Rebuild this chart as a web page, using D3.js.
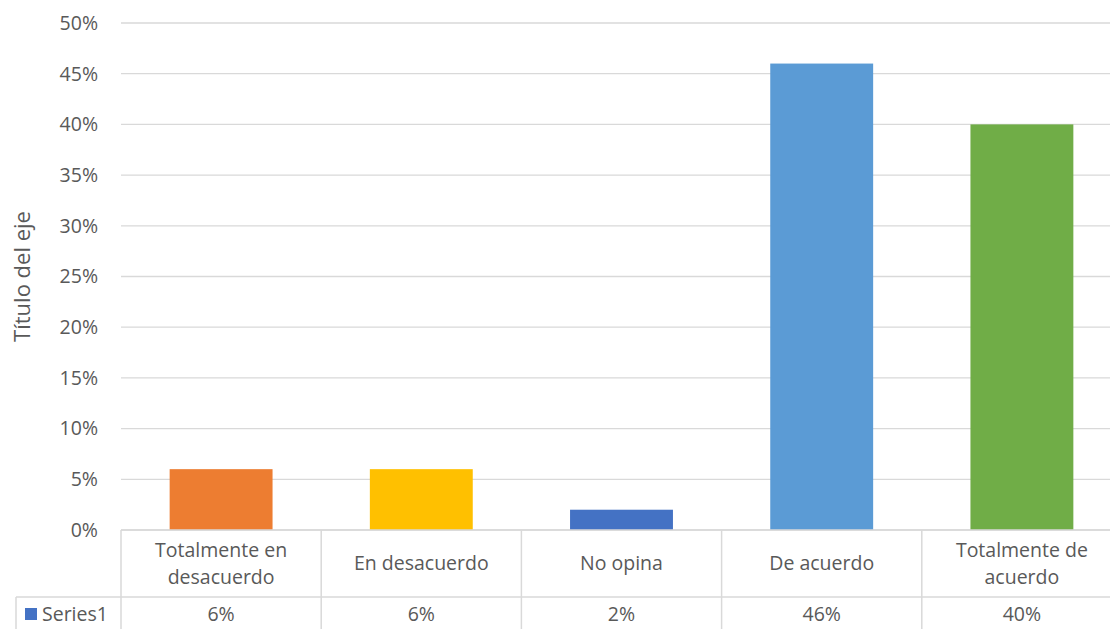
<!DOCTYPE html>
<html><head><meta charset="utf-8">
<script src="https://cdn.jsdelivr.net/npm/d3@7"></script>
<style>body{margin:0;background:#fff;overflow:hidden;} text{font-family:"Open Sans","Liberation Sans",sans-serif;fill:#595959;}</style>
</head><body>
<svg id="c" width="1110" height="629"></svg>
<script>
const categories = [["Totalmente en","desacuerdo"],["En desacuerdo"],["No opina"],["De acuerdo"],["Totalmente de","acuerdo"]];
const values = [0.06, 0.06, 0.02, 0.46, 0.40];
const valueLabels = ["6%","6%","2%","46%","40%"];
const colors = ["#ED7D31","#FFC000","#4472C4","#5B9BD5","#70AD47"];
const yTicks = [0,0.05,0.10,0.15,0.20,0.25,0.30,0.35,0.40,0.45,0.50];
const seriesName = "Series1";
const axisTitle = "Título del eje";

(function(){
const svg = d3.select("#c");
const pL = 121, pR = 1122, pT = 23, pB = 530;
const fs = 19.5;
const x = d3.scaleBand().domain(d3.range(values.length)).range([pL, pR]).paddingInner(0).paddingOuter(0);
const y = d3.scaleLinear().domain([0, 0.5]).range([pB, pT]);
const grid = "#d9d9d9";

svg.append("g").selectAll("line").data(yTicks).join("line")
  .attr("x1", pL).attr("x2", pR).attr("y1", d=>y(d)).attr("y2", d=>y(d))
  .attr("stroke", grid).attr("stroke-width", 1.3);
svg.append("g").selectAll("text").data(yTicks).join("text")
  .attr("x", 98).attr("y", d=>y(d)).attr("dy","0.35em").attr("text-anchor","end")
  .attr("font-size", fs).text(d=>d3.format(".0%")(d));
const bw = x.bandwidth()*0.514;
svg.append("g").selectAll("rect").data(values).join("rect")
  .attr("x",(d,i)=>x(i)+x.bandwidth()/2-bw/2).attr("width",bw)
  .attr("y",d=>y(d)).attr("height",d=>y(0)-y(d)).attr("fill",(d,i)=>colors[i]);

const rowTop = pB, rowMid = 597, rowBot = 640;
const t = svg.append("g");
t.append("line").attr("x1",pL).attr("x2",pR).attr("y1",rowTop).attr("y2",rowTop).attr("stroke",grid).attr("stroke-width",1.5);
t.append("line").attr("x1",16).attr("x2",pR).attr("y1",rowMid).attr("y2",rowMid).attr("stroke",grid).attr("stroke-width",1.5);
t.append("line").attr("x1",16).attr("x2",16).attr("y1",rowMid).attr("y2",rowBot).attr("stroke",grid).attr("stroke-width",1.5);
t.selectAll("line.v").data(d3.range(values.length+1)).join("line").attr("class","v")
  .attr("x1",i=>i<values.length?x(i):pR).attr("x2",i=>i<values.length?x(i):pR)
  .attr("y1",rowTop).attr("y2",rowBot).attr("stroke",grid).attr("stroke-width",1.5);
categories.forEach((lines,i)=>{
  const cx = x(i)+x.bandwidth()/2;
  const cy = (rowTop+rowMid)/2;
  const lh = 27;
  lines.forEach((l,j)=>{
    t.append("text").attr("x",cx).attr("y",cy+(j-(lines.length-1)/2)*lh).attr("dy","0.35em")
      .attr("text-anchor","middle").attr("font-size",fs).text(l);
  });
  t.append("text").attr("x",cx).attr("y",614).attr("dy","0.35em").attr("text-anchor","middle")
    .attr("font-size",fs).text(valueLabels[i]);
});
t.append("rect").attr("x",25).attr("y",608).attr("width",12).attr("height",12).attr("fill","#4472C4");
t.append("text").attr("x",42).attr("y",614).attr("dy","0.35em").attr("font-size",fs).text(seriesName);

svg.append("text").attr("transform","translate(30,"+((pT+pB)/2)+") rotate(-90)")
  .attr("text-anchor","middle").attr("font-size",22).text(axisTitle);
})();
</script>
</body></html>
